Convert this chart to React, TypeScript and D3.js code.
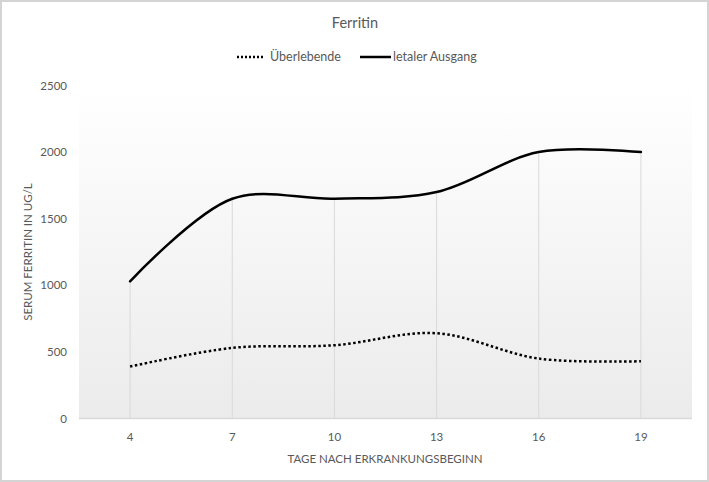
import { useEffect, useRef } from "react";
import * as d3 from "d3";

const days = ["4", "7", "10", "13", "16", "19"];
const survivors = [390, 530, 550, 640, 450, 430];
const fatal = [1030, 1650, 1650, 1700, 2000, 2000];
const yTicks = [0, 500, 1000, 1500, 2000, 2500];

const W = 709;
const H = 482;
const FONT = "Lato, 'Open Sans', sans-serif";
const GREY = "#595959";

export default function App() {
  const ref = useRef<SVGSVGElement | null>(null);

  useEffect(() => {
    const svg = d3.select(ref.current);
    svg.selectAll("*").remove();

    const left = 79, right = 692, top = 85.5, bottom = 418.5;

    const x = d3.scaleBand<string>().domain(days).range([left, right]);
    const y = d3.scaleLinear().domain([0, 2500]).range([bottom, top]);
    const cx = (d: string) => (x(d) ?? 0) + x.bandwidth() / 2;

    // background + frame
    svg.append("rect").attr("width", W).attr("height", H).attr("fill", "#fff");
    svg.append("rect")
      .attr("x", 1).attr("y", 1).attr("width", W - 2).attr("height", H - 2)
      .attr("fill", "none").attr("stroke", "#d4d4d4").attr("stroke-width", 2);

    const defs = svg.append("defs");
    const grad = defs.append("linearGradient")
      .attr("id", "plotbg").attr("x1", 0).attr("y1", 0).attr("x2", 0).attr("y2", 1);
    grad.append("stop").attr("offset", "0%").attr("stop-color", "#ffffff");
    grad.append("stop").attr("offset", "100%").attr("stop-color", "#ebebeb");

    svg.append("rect")
      .attr("x", left).attr("y", top).attr("width", right - left).attr("height", bottom - top)
      .attr("fill", "url(#plotbg)");

    // drop lines from the higher series
    svg.append("g").selectAll("line")
      .data(days)
      .join("line")
      .attr("x1", d => cx(d)).attr("x2", d => cx(d))
      .attr("y1", (d, i) => y(fatal[i])).attr("y2", bottom)
      .attr("stroke", "#d9d9d9").attr("stroke-width", 1);

    // baseline
    svg.append("line")
      .attr("x1", left).attr("x2", right).attr("y1", bottom).attr("y2", bottom)
      .attr("stroke", "#d9d9d9").attr("stroke-width", 1.5);

    // y tick labels
    svg.append("g").selectAll("text")
      .data(yTicks)
      .join("text")
      .attr("x", 67).attr("y", d => y(d)).attr("dy", "0.35em")
      .attr("text-anchor", "end")
      .attr("font-family", FONT).attr("font-size", 11.5).attr("fill", GREY)
      .text(d => String(d));

    // x tick labels
    svg.append("g").selectAll("text")
      .data(days)
      .join("text")
      .attr("x", d => cx(d)).attr("y", 441)
      .attr("text-anchor", "middle")
      .attr("font-family", FONT).attr("font-size", 11.5).attr("fill", GREY)
      .text(d => d);

    const line = d3.line<number>()
      .x((_, i) => cx(days[i]))
      .y(d => y(d))
      .curve(d3.curveCatmullRom.alpha(0.5));

    svg.append("path")
      .attr("d", line(survivors))
      .attr("fill", "none").attr("stroke", "#000").attr("stroke-width", 2.5)
      .attr("stroke-dasharray", "2.5 2.5");

    svg.append("path")
      .attr("d", line(fatal))
      .attr("fill", "none").attr("stroke", "#000").attr("stroke-width", 2.5)
      .attr("stroke-linecap", "round");

    // title
    svg.append("text")
      .attr("x", 355).attr("y", 28).attr("text-anchor", "middle")
      .attr("font-family", FONT).attr("font-size", 14.5).attr("fill", GREY)
      .text("Ferritin");

    // legend
    const lg = svg.append("g").attr("font-family", FONT).attr("font-size", 12.5).attr("fill", GREY);
    lg.append("line")
      .attr("x1", 237).attr("x2", 265).attr("y1", 57).attr("y2", 57)
      .attr("stroke", "#000").attr("stroke-width", 2.5).attr("stroke-dasharray", "2 2");
    lg.append("text").attr("x", 270).attr("y", 57).attr("dy", "0.35em").text("Überlebende");
    lg.append("line")
      .attr("x1", 360).attr("x2", 391).attr("y1", 57).attr("y2", 57)
      .attr("stroke", "#000").attr("stroke-width", 2.5);
    lg.append("text").attr("x", 393).attr("y", 57).attr("dy", "0.35em").text("letaler Ausgang");

    // axis titles
    svg.append("text")
      .attr("x", 385).attr("y", 463).attr("text-anchor", "middle")
      .attr("font-family", FONT).attr("font-size", 11.5).attr("fill", GREY)
      .text("TAGE NACH ERKRANKUNGSBEGINN");

    svg.append("text")
      .attr("transform", "translate(32,252) rotate(-90)")
      .attr("text-anchor", "middle")
      .attr("font-family", FONT).attr("font-size", 11.5).attr("fill", GREY)
      .text("SERUM FERRITIN IN UG/L");
  }, []);

  return (
    <div style={{ position: "fixed", left: 0, top: 0 }}>
      <svg ref={ref} width={W} height={H} style={{ display: "block" }} />
    </div>
  );
}
